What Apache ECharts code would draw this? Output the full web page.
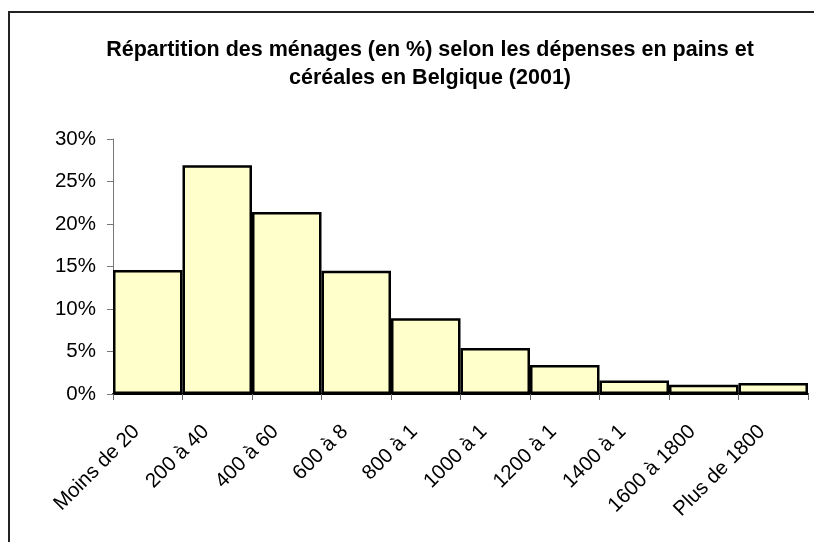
<!DOCTYPE html>
<html>
<head>
<meta charset="utf-8">
<script src="https://cdn.jsdelivr.net/npm/echarts@6/dist/echarts.min.js"></script>
<style>
  html, body { margin: 0; padding: 0; background: #fff; }
  #chart { width: 814px; height: 542px; }
</style>
</head>
<body>
<div id="chart"></div>
<script>
// classes de dépenses (full names) and what the picture actually shows under each bar
const categories = ['Moins de 200', '200 à 400', '400 à 600', '600 à 800', '800 à 1000',
  '1000 à 1200', '1200 à 1400', '1400 à 1600', '1600 à 1800', 'Plus de 1800'];
const shownLabels = ['Moins de 20', '200 à 40', '400 à 60', '600 à 8', '800 à 1',
  '1000 à 1', '1200 à 1', '1400 à 1', '1600 à 1800', 'Plus de 1800'];
const shares = [14.6, 26.9, 21.4, 14.5, 8.9, 5.4, 3.4, 1.6, 1.1, 1.3];
const yTicks = [0, 5, 10, 15, 20, 25, 30];

let font = '"Liberation Sans", Arial, sans-serif';
let myChart = echarts.init(document.getElementById('chart'));

let option = {
  backgroundColor: '#ffffff',
  animation: false,
  title: {
    text: 'Répartition des ménages (en %) selon les dépenses en pains et\ncéréales en Belgique (2001)',
    left: 425,
    top: 31,
    textAlign: 'center',
    textStyle: {
      fontFamily: font,
      fontSize: 21.5,
      fontWeight: 'bold',
      color: '#000',
      lineHeight: 28
    }
  },
  graphic: [{
    type: 'rect',
    shape: {x: 9, y: 12, width: 830, height: 560},
    style: {fill: 'none', stroke: '#222', lineWidth: 2},
    silent: true
  }],
  grid: {
    left: 113,
    right: 6,
    top: 139,
    bottom: 148
  },
  xAxis: {
    type: 'category',
    data: categories,
    axisLine: {
      lineStyle: {color: '#000', width: 2}
    },
    axisTick: {
      show: true,
      length: 6,
      lineStyle: {color: '#666'}
    },
    axisLabel: {
      rotate: 45,
      margin: 23,
      padding: [0, 16, 0, 0],
      fontFamily: font,
      fontSize: 20.5,
      color: '#000',
      interval: 0,
      formatter: function (v, i) {
        return shownLabels[i];
      }
    },
    splitLine: {show: false}
  },
  yAxis: {
    type: 'value',
    min: yTicks[0],
    max: yTicks[yTicks.length - 1],
    interval: 5,
    axisLine: {
      show: true,
      lineStyle: {color: '#777', width: 1}
    },
    axisTick: {
      show: true,
      length: 6,
      lineStyle: {color: '#777'}
    },
    axisLabel: {
      margin: 17,
      fontFamily: font,
      fontSize: 20.5,
      color: '#000',
      formatter: '{value}%'
    },
    splitLine: {show: false}
  },
  series: [{
    type: 'bar',
    data: shares,
    barCategoryGap: '0%',
    itemStyle: {
      color: '#ffffcc',
      borderColor: '#000',
      borderWidth: 2.5
    }
  }]
};

myChart.setOption(option);
</script>
</body>
</html>
